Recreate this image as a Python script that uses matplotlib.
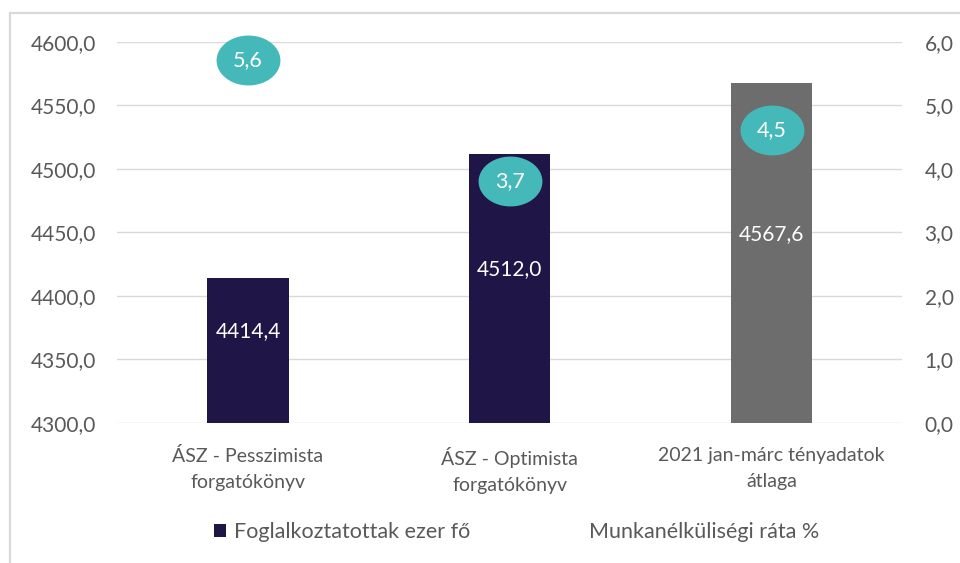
import matplotlib
matplotlib.use("Agg")
import matplotlib.pyplot as plt
from matplotlib.patches import Rectangle
from matplotlib.path import Path
from matplotlib.transforms import offset_copy
import numpy as np

categories = ["ÁSZ - Pesszimista\nforgatókönyv", "ÁSZ - Optimista\nforgatókönyv", "2021 jan-márc tényadatok\nátlaga"]
employed = [4414.4, 4512.0, 4567.6]
unemployment = [5.6, 3.7, 4.5]
bar_colors = ["#1f1547", "#1f1547", "#6d6d6d"]
left_ticks = [4300, 4350, 4400, 4450, 4500, 4550, 4600]
right_ticks = [0, 1, 2, 3, 4, 5, 6]

plt.rcParams["font.family"] = ["Lato", "DejaVu Sans"]
grey = "#595959"
teal = "#45b9b9"

def hu(v):
    return f"{v:.1f}".replace(".", ",")

fig = plt.figure(figsize=(9.6, 5.63), dpi=100)
ax = fig.add_axes([0.122, 0.2487, 0.818, 0.6767])
ax2 = ax.twinx()

x = np.arange(len(categories))
ymin = left_ticks[0]
bars = ax.bar(x, [v - ymin for v in employed], bottom=ymin, width=0.31,
              color=bar_colors, zorder=2, label="Foglalkoztatottak ezer fő")
ax.set_ylim(left_ticks[0], left_ticks[-1])
ax.set_xlim(-0.5, len(categories) - 0.5)
ax.set_yticks(left_ticks)
ax.set_yticklabels([hu(t) for t in left_ticks])
ax.grid(axis="y", color="#d9d9d9", linewidth=1, zorder=0)
ax.set_axisbelow(True)
ax.set_xticks(x)
ax.set_xticklabels(categories, fontsize=14, color=grey, linespacing=1.65)
ax.tick_params(axis="x", length=0, pad=17)
ax.tick_params(axis="y", length=0, labelsize=15, labelcolor=grey, pad=15)

for xi, v in zip(x, employed):
    ax.annotate(hu(v), xy=(xi, (ymin + v) / 2), xytext=(0, 14), textcoords="offset points",
                ha="center", va="center", color="white", fontsize=15, zorder=4)

ax2.set_ylim(right_ticks[0], right_ticks[-1])
ax2.set_yticks(right_ticks)
ax2.set_yticklabels([hu(t) for t in right_ticks])
ax2.tick_params(axis="y", length=0, labelsize=15, labelcolor=grey, pad=16)

# invisible line series, labels drawn as teal ellipses just above the points
t = np.linspace(0, 2 * np.pi, 60)
ellipse = Path(np.column_stack([np.cos(t), np.sin(t) * 50 / 64]), closed=True)
lifted = offset_copy(ax2.transData, fig=fig, y=5, units="points")
line, = ax2.plot(x, unemployment, linestyle="none", label="Munkanélküliségi ráta %")
ax2.plot(x, unemployment, linestyle="none", marker=ellipse, markersize=46,
         markerfacecolor=teal, markeredgecolor="none", transform=lifted, clip_on=False)
for xi, r in zip(x, unemployment):
    ax2.text(xi, r, hu(r), ha="center", va="center", color="white", fontsize=15.5,
             transform=lifted)

for a in (ax, ax2):
    for s in a.spines.values():
        s.set_visible(False)

fig.legend(handles=[bars, line], loc="center", bbox_to_anchor=(0.538, 0.055), ncol=2,
           frameon=False, fontsize=15.5, labelcolor=grey, handlelength=0.56,
           handleheight=0.56, handletextpad=0.37, columnspacing=4.6)

fig.patches.append(Rectangle((10 / 960, -0.1), 1.2, 0.1 + 0.977, transform=fig.transFigure,
                             fill=False, ec="#d9d9d9", lw=1.6))

fig.savefig("out.png", dpi=100)
